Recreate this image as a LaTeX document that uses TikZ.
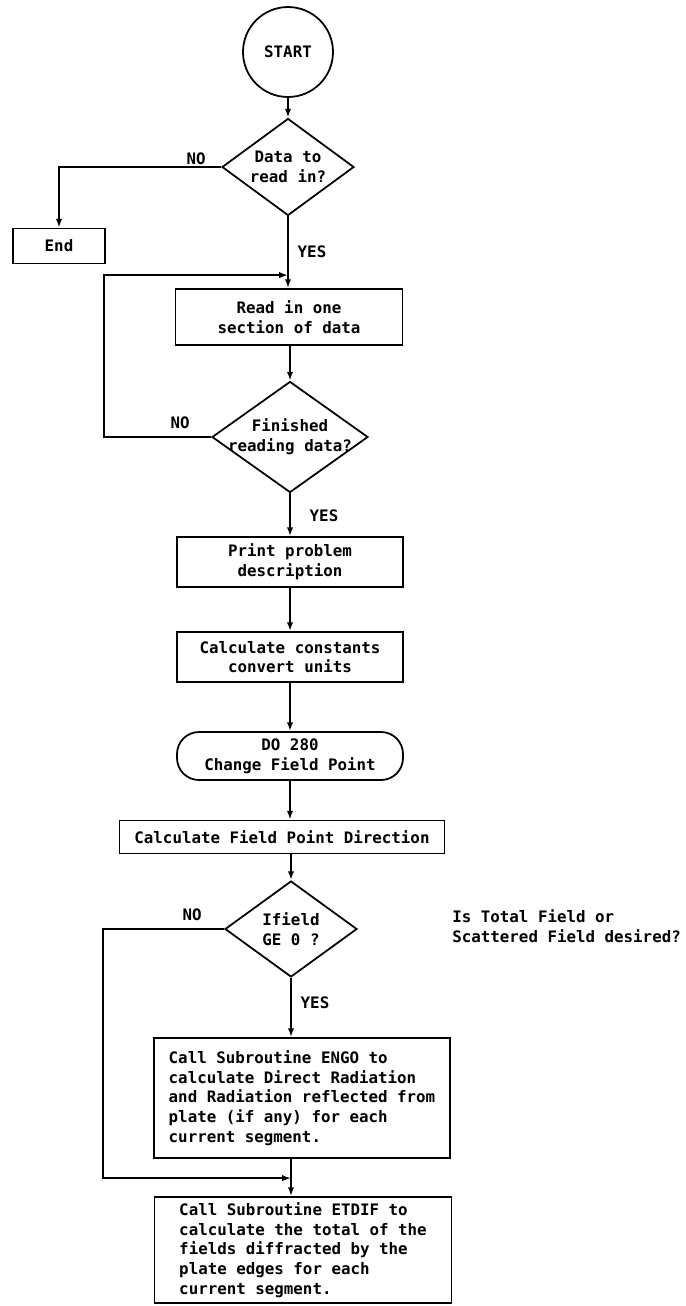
\documentclass[tikz,border=0pt]{standalone}
\usepackage{fontspec}
\setmonofont{DejaVu Sans Mono}
\usetikzlibrary{arrows.meta,positioning,shapes.geometric,calc}
\newlength{\unitpx}
\setlength{\unitpx}{0.02cm}
\newcommand{\flowfont}{\ttfamily\bfseries\fontsize{9}{11.2}\selectfont}

\begin{document}
\begin{tikzpicture}[
  x=0.02cm, y=-0.02cm,
  box/.style={
    draw,
    line width=1pt,
    minimum width=226\unitpx,
    minimum height=50\unitpx,
    align=center,
    font=\flowfont
  },
  decision/.style={
    draw,
    diamond,
    line width=1pt,
    inner sep=0pt
  },
  terminal/.style={box,rounded corners=22\unitpx},
  txt/.style={align=center,font=\flowfont,inner sep=0pt},
  tag/.style={font=\flowfont,inner sep=1pt},
  arrow/.style={-{Latex[length=5pt,width=3.6pt]},line width=1pt}
]
  \useasboundingbox (0,0) rectangle (686,1306);

  % main column
  \node[draw,circle,line width=1pt,minimum size=90\unitpx,font=\flowfont] (start)
    at (288,52) {START};
  \node[decision,minimum width=132\unitpx,minimum height=97\unitpx] (avail)
    at (288,167) {};
  \node[txt] (availtext) at (avail) {Data to\\read in?};
  \node[box,minimum width=92\unitpx,minimum height=35\unitpx] (end)
    at (59,246) {End};
  \node[box,minimum width=227\unitpx,minimum height=56\unitpx] (read)
    at (289,317) {Read in one\\section of data};
  \node[decision,minimum width=156\unitpx,minimum height=111\unitpx] (finish)
    at (290,437) {};
  \node[txt] (finishtext) at (finish) {Finished\\reading data?};
  \node[box] (print) at (290,562) {Print problem\\description};
  \node[box] (consts) at (290,657) {Calculate constants\\convert units};
  \node[terminal,minimum height=48\unitpx] (fieldloop)
    at (290,756) {DO 280\\Change Field Point};
  \node[box,minimum width=325\unitpx,minimum height=33\unitpx] (direction)
    at (282,837) {Calculate Field Point Direction};
  \node[decision,minimum width=132\unitpx,minimum height=96\unitpx] (ifield)
    at (291,929) {};
  \node[txt] (ifieldtext) at (ifield) {Ifield\\GE 0 ?};
  \node[txt,anchor=west,align=left] (question) at (452,926)
    {Is Total Field or\\Scattered Field desired?};
  \node[box,align=left,minimum width=296\unitpx,minimum height=120\unitpx] (engo)
    at (302,1098) {Call Subroutine ENGO to\\calculate Direct Radiation\\and Radiation reflected from\\plate (if any) for each\\current segment.};
  \node[box,align=left,inner ysep=1pt,minimum width=297\unitpx,minimum height=106\unitpx] (etdif)
    at (303,1250) {Call Subroutine ETDIF to\\calculate the total of the\\fields diffracted by the\\plate edges for each\\current segment.};

  % branch labels
  \node[tag] (no1) at ($(avail.west)+(-25,-8)$) {NO};
  \node[tag] (yes1) at ($(avail.south)+(24,35)$) {YES};
  \node[tag] (no2) at ($(finish.west)+(-31,-14)$) {NO};
  \node[tag] (yes2) at ($(finish.south)+(34,22)$) {YES};
  \node[tag] (no3) at ($(ifield.west)+(-32,-14)$) {NO};
  \node[tag] (yes3) at ($(ifield.south)+(24,25)$) {YES};

  % connectors
  \draw[arrow] (start) -- (avail);
  \draw[arrow] (avail.west) -| (end.north);
  \draw[arrow] (avail.south) -- (avail.south |- read.north);
  \draw[arrow] (finish.north |- read.south) -- (finish.north);
  \draw[arrow] (finish.west) -- ++(-107,0) |- ($(avail.south |- read.north)+(0,-13)$);
  \draw[arrow] (finish.south) -- (print.north);
  \draw[arrow] (print.south) -- (consts.north);
  \draw[arrow] (consts.south) -- (fieldloop.north);
  \draw[arrow] (fieldloop.south) -- (fieldloop.south |- direction.north);
  \draw[arrow] (ifield.north |- direction.south) -- (ifield.north);
  \draw[arrow] (ifield.south) -- (ifield.south |- engo.north);
  \draw[arrow] (engo.south -| ifield.south) -- (ifield.south |- etdif.north);
  \draw[arrow] (ifield.west) -- ++(-121,0) |- ($(ifield.south |- etdif.north)+(0,-18)$);
\end{tikzpicture}
\end{document}
